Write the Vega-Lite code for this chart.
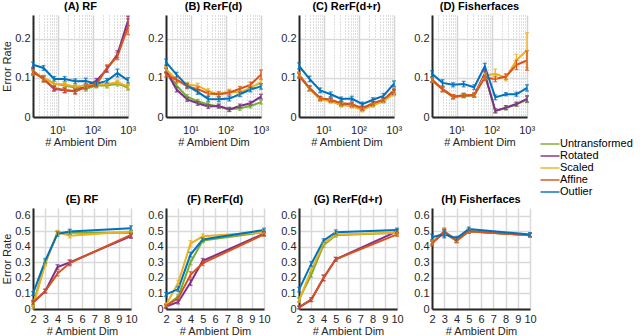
{
"$schema": "https://vega.github.io/schema/vega-lite/v6.json",
"padding": {"left": 1, "top": 1, "right": 0, "bottom": 0},
"background": "white",
"datasets": {
"top": [
{"p":"A","s":"Untransformed","x":2,"y":0.112,"e":0.006},{"p":"A","s":"Untransformed","x":4,"y":0.100,"e":0.006},{"p":"A","s":"Untransformed","x":8,"y":0.085,"e":0.006},{"p":"A","s":"Untransformed","x":16,"y":0.080,"e":0.006},{"p":"A","s":"Untransformed","x":32,"y":0.075,"e":0.006},{"p":"A","s":"Untransformed","x":64,"y":0.072,"e":0.006},{"p":"A","s":"Untransformed","x":128,"y":0.080,"e":0.006},{"p":"A","s":"Untransformed","x":256,"y":0.080,"e":0.006},{"p":"A","s":"Untransformed","x":512,"y":0.085,"e":0.006},{"p":"A","s":"Untransformed","x":1024,"y":0.075,"e":0.006},
{"p":"A","s":"Rotated","x":2,"y":0.118,"e":0.007},{"p":"A","s":"Rotated","x":4,"y":0.097,"e":0.007},{"p":"A","s":"Rotated","x":8,"y":0.072,"e":0.006},{"p":"A","s":"Rotated","x":16,"y":0.068,"e":0.006},{"p":"A","s":"Rotated","x":32,"y":0.066,"e":0.006},{"p":"A","s":"Rotated","x":64,"y":0.078,"e":0.006},{"p":"A","s":"Rotated","x":128,"y":0.092,"e":0.006},{"p":"A","s":"Rotated","x":256,"y":0.122,"e":0.008},{"p":"A","s":"Rotated","x":512,"y":0.160,"e":0.009},{"p":"A","s":"Rotated","x":1024,"y":0.245,"e":0.012},
{"p":"A","s":"Scaled","x":2,"y":0.115,"e":0.006},{"p":"A","s":"Scaled","x":4,"y":0.100,"e":0.006},{"p":"A","s":"Scaled","x":8,"y":0.085,"e":0.006},{"p":"A","s":"Scaled","x":16,"y":0.083,"e":0.006},{"p":"A","s":"Scaled","x":32,"y":0.078,"e":0.006},{"p":"A","s":"Scaled","x":64,"y":0.080,"e":0.006},{"p":"A","s":"Scaled","x":128,"y":0.082,"e":0.006},{"p":"A","s":"Scaled","x":256,"y":0.084,"e":0.006},{"p":"A","s":"Scaled","x":512,"y":0.088,"e":0.006},{"p":"A","s":"Scaled","x":1024,"y":0.078,"e":0.006},
{"p":"A","s":"Affine","x":2,"y":0.115,"e":0.007},{"p":"A","s":"Affine","x":4,"y":0.097,"e":0.008},{"p":"A","s":"Affine","x":8,"y":0.074,"e":0.006},{"p":"A","s":"Affine","x":16,"y":0.068,"e":0.006},{"p":"A","s":"Affine","x":32,"y":0.065,"e":0.007},{"p":"A","s":"Affine","x":64,"y":0.076,"e":0.006},{"p":"A","s":"Affine","x":128,"y":0.082,"e":0.006},{"p":"A","s":"Affine","x":256,"y":0.125,"e":0.008},{"p":"A","s":"Affine","x":512,"y":0.155,"e":0.009},{"p":"A","s":"Affine","x":1024,"y":0.230,"e":0.02},
{"p":"A","s":"Outlier","x":2,"y":0.133,"e":0.007},{"p":"A","s":"Outlier","x":4,"y":0.125,"e":0.006},{"p":"A","s":"Outlier","x":8,"y":0.097,"e":0.006},{"p":"A","s":"Outlier","x":16,"y":0.097,"e":0.006},{"p":"A","s":"Outlier","x":32,"y":0.091,"e":0.006},{"p":"A","s":"Outlier","x":64,"y":0.092,"e":0.007},{"p":"A","s":"Outlier","x":128,"y":0.085,"e":0.006},{"p":"A","s":"Outlier","x":256,"y":0.092,"e":0.006},{"p":"A","s":"Outlier","x":512,"y":0.112,"e":0.01},{"p":"A","s":"Outlier","x":1024,"y":0.093,"e":0.007},
{"p":"B","s":"Untransformed","x":2,"y":0.120,"e":0.006},{"p":"B","s":"Untransformed","x":4,"y":0.080,"e":0.006},{"p":"B","s":"Untransformed","x":8,"y":0.052,"e":0.005},{"p":"B","s":"Untransformed","x":16,"y":0.040,"e":0.005},{"p":"B","s":"Untransformed","x":32,"y":0.032,"e":0.005},{"p":"B","s":"Untransformed","x":64,"y":0.027,"e":0.005},{"p":"B","s":"Untransformed","x":128,"y":0.020,"e":0.005},{"p":"B","s":"Untransformed","x":256,"y":0.022,"e":0.005},{"p":"B","s":"Untransformed","x":512,"y":0.028,"e":0.005},{"p":"B","s":"Untransformed","x":1024,"y":0.038,"e":0.005},
{"p":"B","s":"Rotated","x":2,"y":0.118,"e":0.006},{"p":"B","s":"Rotated","x":4,"y":0.070,"e":0.006},{"p":"B","s":"Rotated","x":8,"y":0.045,"e":0.005},{"p":"B","s":"Rotated","x":16,"y":0.035,"e":0.005},{"p":"B","s":"Rotated","x":32,"y":0.027,"e":0.005},{"p":"B","s":"Rotated","x":64,"y":0.028,"e":0.005},{"p":"B","s":"Rotated","x":128,"y":0.019,"e":0.005},{"p":"B","s":"Rotated","x":256,"y":0.028,"e":0.005},{"p":"B","s":"Rotated","x":512,"y":0.035,"e":0.005},{"p":"B","s":"Rotated","x":1024,"y":0.052,"e":0.006},
{"p":"B","s":"Scaled","x":2,"y":0.122,"e":0.006},{"p":"B","s":"Scaled","x":4,"y":0.095,"e":0.006},{"p":"B","s":"Scaled","x":8,"y":0.082,"e":0.006},{"p":"B","s":"Scaled","x":16,"y":0.080,"e":0.006},{"p":"B","s":"Scaled","x":32,"y":0.066,"e":0.006},{"p":"B","s":"Scaled","x":64,"y":0.058,"e":0.006},{"p":"B","s":"Scaled","x":128,"y":0.065,"e":0.006},{"p":"B","s":"Scaled","x":256,"y":0.062,"e":0.006},{"p":"B","s":"Scaled","x":512,"y":0.075,"e":0.006},{"p":"B","s":"Scaled","x":1024,"y":0.088,"e":0.007},
{"p":"B","s":"Affine","x":2,"y":0.108,"e":0.006},{"p":"B","s":"Affine","x":4,"y":0.095,"e":0.006},{"p":"B","s":"Affine","x":8,"y":0.078,"e":0.006},{"p":"B","s":"Affine","x":16,"y":0.071,"e":0.006},{"p":"B","s":"Affine","x":32,"y":0.060,"e":0.006},{"p":"B","s":"Affine","x":64,"y":0.058,"e":0.006},{"p":"B","s":"Affine","x":128,"y":0.062,"e":0.006},{"p":"B","s":"Affine","x":256,"y":0.072,"e":0.006},{"p":"B","s":"Affine","x":512,"y":0.082,"e":0.007},{"p":"B","s":"Affine","x":1024,"y":0.108,"e":0.012},
{"p":"B","s":"Outlier","x":2,"y":0.140,"e":0.008},{"p":"B","s":"Outlier","x":4,"y":0.108,"e":0.006},{"p":"B","s":"Outlier","x":8,"y":0.080,"e":0.006},{"p":"B","s":"Outlier","x":16,"y":0.064,"e":0.006},{"p":"B","s":"Outlier","x":32,"y":0.046,"e":0.006},{"p":"B","s":"Outlier","x":64,"y":0.045,"e":0.006},{"p":"B","s":"Outlier","x":128,"y":0.047,"e":0.006},{"p":"B","s":"Outlier","x":256,"y":0.058,"e":0.006},{"p":"B","s":"Outlier","x":512,"y":0.070,"e":0.006},{"p":"B","s":"Outlier","x":1024,"y":0.078,"e":0.007},
{"p":"C","s":"Untransformed","x":2,"y":0.106,"e":0.006},{"p":"C","s":"Untransformed","x":4,"y":0.072,"e":0.006},{"p":"C","s":"Untransformed","x":8,"y":0.046,"e":0.005},{"p":"C","s":"Untransformed","x":16,"y":0.042,"e":0.005},{"p":"C","s":"Untransformed","x":32,"y":0.032,"e":0.005},{"p":"C","s":"Untransformed","x":64,"y":0.030,"e":0.005},{"p":"C","s":"Untransformed","x":128,"y":0.020,"e":0.005},{"p":"C","s":"Untransformed","x":256,"y":0.032,"e":0.005},{"p":"C","s":"Untransformed","x":512,"y":0.042,"e":0.005},{"p":"C","s":"Untransformed","x":1024,"y":0.062,"e":0.006},
{"p":"C","s":"Rotated","x":2,"y":0.108,"e":0.006},{"p":"C","s":"Rotated","x":4,"y":0.073,"e":0.006},{"p":"C","s":"Rotated","x":8,"y":0.047,"e":0.005},{"p":"C","s":"Rotated","x":16,"y":0.043,"e":0.005},{"p":"C","s":"Rotated","x":32,"y":0.034,"e":0.005},{"p":"C","s":"Rotated","x":64,"y":0.031,"e":0.005},{"p":"C","s":"Rotated","x":128,"y":0.022,"e":0.005},{"p":"C","s":"Rotated","x":256,"y":0.034,"e":0.005},{"p":"C","s":"Rotated","x":512,"y":0.043,"e":0.005},{"p":"C","s":"Rotated","x":1024,"y":0.064,"e":0.006},
{"p":"C","s":"Scaled","x":2,"y":0.108,"e":0.006},{"p":"C","s":"Scaled","x":4,"y":0.072,"e":0.006},{"p":"C","s":"Scaled","x":8,"y":0.045,"e":0.005},{"p":"C","s":"Scaled","x":16,"y":0.040,"e":0.005},{"p":"C","s":"Scaled","x":32,"y":0.030,"e":0.005},{"p":"C","s":"Scaled","x":64,"y":0.028,"e":0.005},{"p":"C","s":"Scaled","x":128,"y":0.018,"e":0.005},{"p":"C","s":"Scaled","x":256,"y":0.030,"e":0.005},{"p":"C","s":"Scaled","x":512,"y":0.040,"e":0.005},{"p":"C","s":"Scaled","x":1024,"y":0.060,"e":0.006},
{"p":"C","s":"Affine","x":2,"y":0.105,"e":0.006},{"p":"C","s":"Affine","x":4,"y":0.074,"e":0.006},{"p":"C","s":"Affine","x":8,"y":0.048,"e":0.005},{"p":"C","s":"Affine","x":16,"y":0.044,"e":0.005},{"p":"C","s":"Affine","x":32,"y":0.035,"e":0.005},{"p":"C","s":"Affine","x":64,"y":0.033,"e":0.005},{"p":"C","s":"Affine","x":128,"y":0.022,"e":0.005},{"p":"C","s":"Affine","x":256,"y":0.035,"e":0.005},{"p":"C","s":"Affine","x":512,"y":0.044,"e":0.005},{"p":"C","s":"Affine","x":1024,"y":0.068,"e":0.006},
{"p":"C","s":"Outlier","x":2,"y":0.130,"e":0.008},{"p":"C","s":"Outlier","x":4,"y":0.097,"e":0.007},{"p":"C","s":"Outlier","x":8,"y":0.068,"e":0.006},{"p":"C","s":"Outlier","x":16,"y":0.058,"e":0.006},{"p":"C","s":"Outlier","x":32,"y":0.046,"e":0.005},{"p":"C","s":"Outlier","x":64,"y":0.047,"e":0.006},{"p":"C","s":"Outlier","x":128,"y":0.033,"e":0.005},{"p":"C","s":"Outlier","x":256,"y":0.044,"e":0.005},{"p":"C","s":"Outlier","x":512,"y":0.054,"e":0.006},{"p":"C","s":"Outlier","x":1024,"y":0.085,"e":0.007},
{"p":"D","s":"Untransformed","x":2,"y":0.094,"e":0.006},{"p":"D","s":"Untransformed","x":4,"y":0.070,"e":0.006},{"p":"D","s":"Untransformed","x":8,"y":0.051,"e":0.005},{"p":"D","s":"Untransformed","x":16,"y":0.054,"e":0.005},{"p":"D","s":"Untransformed","x":32,"y":0.055,"e":0.005},{"p":"D","s":"Untransformed","x":64,"y":0.108,"e":0.008},{"p":"D","s":"Untransformed","x":128,"y":0.015,"e":0.005},{"p":"D","s":"Untransformed","x":256,"y":0.023,"e":0.005},{"p":"D","s":"Untransformed","x":512,"y":0.032,"e":0.005},{"p":"D","s":"Untransformed","x":1024,"y":0.045,"e":0.008},
{"p":"D","s":"Rotated","x":2,"y":0.095,"e":0.006},{"p":"D","s":"Rotated","x":4,"y":0.071,"e":0.006},{"p":"D","s":"Rotated","x":8,"y":0.052,"e":0.005},{"p":"D","s":"Rotated","x":16,"y":0.055,"e":0.005},{"p":"D","s":"Rotated","x":32,"y":0.056,"e":0.005},{"p":"D","s":"Rotated","x":64,"y":0.110,"e":0.008},{"p":"D","s":"Rotated","x":128,"y":0.016,"e":0.005},{"p":"D","s":"Rotated","x":256,"y":0.024,"e":0.005},{"p":"D","s":"Rotated","x":512,"y":0.033,"e":0.005},{"p":"D","s":"Rotated","x":1024,"y":0.046,"e":0.008},
{"p":"D","s":"Scaled","x":2,"y":0.095,"e":0.006},{"p":"D","s":"Scaled","x":4,"y":0.071,"e":0.006},{"p":"D","s":"Scaled","x":8,"y":0.052,"e":0.005},{"p":"D","s":"Scaled","x":16,"y":0.055,"e":0.005},{"p":"D","s":"Scaled","x":32,"y":0.056,"e":0.005},{"p":"D","s":"Scaled","x":64,"y":0.105,"e":0.008},{"p":"D","s":"Scaled","x":128,"y":0.110,"e":0.012},{"p":"D","s":"Scaled","x":256,"y":0.100,"e":0.008},{"p":"D","s":"Scaled","x":512,"y":0.145,"e":0.015},{"p":"D","s":"Scaled","x":1024,"y":0.170,"e":0.045},
{"p":"D","s":"Affine","x":2,"y":0.095,"e":0.006},{"p":"D","s":"Affine","x":4,"y":0.071,"e":0.006},{"p":"D","s":"Affine","x":8,"y":0.052,"e":0.005},{"p":"D","s":"Affine","x":16,"y":0.055,"e":0.005},{"p":"D","s":"Affine","x":32,"y":0.056,"e":0.005},{"p":"D","s":"Affine","x":64,"y":0.100,"e":0.007},{"p":"D","s":"Affine","x":128,"y":0.097,"e":0.007},{"p":"D","s":"Affine","x":256,"y":0.103,"e":0.007},{"p":"D","s":"Affine","x":512,"y":0.133,"e":0.012},{"p":"D","s":"Affine","x":1024,"y":0.144,"e":0.025},
{"p":"D","s":"Outlier","x":2,"y":0.110,"e":0.008},{"p":"D","s":"Outlier","x":4,"y":0.087,"e":0.008},{"p":"D","s":"Outlier","x":8,"y":0.082,"e":0.005},{"p":"D","s":"Outlier","x":16,"y":0.084,"e":0.007},{"p":"D","s":"Outlier","x":32,"y":0.076,"e":0.006},{"p":"D","s":"Outlier","x":64,"y":0.129,"e":0.008},{"p":"D","s":"Outlier","x":128,"y":0.050,"e":0.006},{"p":"D","s":"Outlier","x":256,"y":0.058,"e":0.004},{"p":"D","s":"Outlier","x":512,"y":0.058,"e":0.005},{"p":"D","s":"Outlier","x":1024,"y":0.074,"e":0.008}
],
"bot": [
{"p":"E","s":"Untransformed","x":2,"y":0.030,"e":0.012},{"p":"E","s":"Untransformed","x":3,"y":0.300,"e":0.015},{"p":"E","s":"Untransformed","x":4,"y":0.490,"e":0.012},{"p":"E","s":"Untransformed","x":5,"y":0.490,"e":0.012},{"p":"E","s":"Untransformed","x":10,"y":0.490,"e":0.012},
{"p":"E","s":"Rotated","x":2,"y":0.040,"e":0.012},{"p":"E","s":"Rotated","x":3,"y":0.115,"e":0.012},{"p":"E","s":"Rotated","x":4,"y":0.270,"e":0.015},{"p":"E","s":"Rotated","x":5,"y":0.300,"e":0.015},{"p":"E","s":"Rotated","x":10,"y":0.470,"e":0.015},
{"p":"E","s":"Scaled","x":2,"y":0.015,"e":0.012},{"p":"E","s":"Scaled","x":3,"y":0.290,"e":0.015},{"p":"E","s":"Scaled","x":4,"y":0.494,"e":0.012},{"p":"E","s":"Scaled","x":5,"y":0.472,"e":0.015},{"p":"E","s":"Scaled","x":10,"y":0.498,"e":0.012},
{"p":"E","s":"Affine","x":2,"y":0.043,"e":0.012},{"p":"E","s":"Affine","x":3,"y":0.115,"e":0.012},{"p":"E","s":"Affine","x":4,"y":0.228,"e":0.015},{"p":"E","s":"Affine","x":5,"y":0.296,"e":0.018},{"p":"E","s":"Affine","x":10,"y":0.477,"e":0.015},
{"p":"E","s":"Outlier","x":2,"y":0.100,"e":0.012},{"p":"E","s":"Outlier","x":3,"y":0.310,"e":0.015},{"p":"E","s":"Outlier","x":4,"y":0.483,"e":0.015},{"p":"E","s":"Outlier","x":5,"y":0.498,"e":0.015},{"p":"E","s":"Outlier","x":10,"y":0.520,"e":0.015},
{"p":"F","s":"Untransformed","x":2,"y":0.020,"e":0.01},{"p":"F","s":"Untransformed","x":3,"y":0.080,"e":0.012},{"p":"F","s":"Untransformed","x":4,"y":0.300,"e":0.015},{"p":"F","s":"Untransformed","x":5,"y":0.440,"e":0.012},{"p":"F","s":"Untransformed","x":10,"y":0.495,"e":0.012},
{"p":"F","s":"Rotated","x":2,"y":0.015,"e":0.01},{"p":"F","s":"Rotated","x":3,"y":0.045,"e":0.012},{"p":"F","s":"Rotated","x":4,"y":0.170,"e":0.018},{"p":"F","s":"Rotated","x":5,"y":0.310,"e":0.015},{"p":"F","s":"Rotated","x":10,"y":0.485,"e":0.012},
{"p":"F","s":"Scaled","x":2,"y":0.025,"e":0.01},{"p":"F","s":"Scaled","x":3,"y":0.170,"e":0.015},{"p":"F","s":"Scaled","x":4,"y":0.420,"e":0.02},{"p":"F","s":"Scaled","x":5,"y":0.468,"e":0.015},{"p":"F","s":"Scaled","x":10,"y":0.494,"e":0.012},
{"p":"F","s":"Affine","x":2,"y":0.020,"e":0.01},{"p":"F","s":"Affine","x":3,"y":0.070,"e":0.012},{"p":"F","s":"Affine","x":4,"y":0.220,"e":0.02},{"p":"F","s":"Affine","x":5,"y":0.295,"e":0.015},{"p":"F","s":"Affine","x":10,"y":0.480,"e":0.012},
{"p":"F","s":"Outlier","x":2,"y":0.094,"e":0.012},{"p":"F","s":"Outlier","x":3,"y":0.128,"e":0.015},{"p":"F","s":"Outlier","x":4,"y":0.350,"e":0.015},{"p":"F","s":"Outlier","x":5,"y":0.447,"e":0.012},{"p":"F","s":"Outlier","x":10,"y":0.508,"e":0.012},
{"p":"G","s":"Untransformed","x":2,"y":0.060,"e":0.012},{"p":"G","s":"Untransformed","x":3,"y":0.220,"e":0.015},{"p":"G","s":"Untransformed","x":4,"y":0.410,"e":0.012},{"p":"G","s":"Untransformed","x":5,"y":0.475,"e":0.012},{"p":"G","s":"Untransformed","x":10,"y":0.490,"e":0.012},
{"p":"G","s":"Rotated","x":2,"y":0.010,"e":0.008},{"p":"G","s":"Rotated","x":3,"y":0.060,"e":0.012},{"p":"G","s":"Rotated","x":4,"y":0.200,"e":0.018},{"p":"G","s":"Rotated","x":5,"y":0.320,"e":0.012},{"p":"G","s":"Rotated","x":10,"y":0.500,"e":0.012},
{"p":"G","s":"Scaled","x":2,"y":0.055,"e":0.012},{"p":"G","s":"Scaled","x":3,"y":0.250,"e":0.015},{"p":"G","s":"Scaled","x":4,"y":0.420,"e":0.012},{"p":"G","s":"Scaled","x":5,"y":0.480,"e":0.012},{"p":"G","s":"Scaled","x":10,"y":0.490,"e":0.012},
{"p":"G","s":"Affine","x":2,"y":0.010,"e":0.008},{"p":"G","s":"Affine","x":3,"y":0.060,"e":0.012},{"p":"G","s":"Affine","x":4,"y":0.200,"e":0.018},{"p":"G","s":"Affine","x":5,"y":0.320,"e":0.012},{"p":"G","s":"Affine","x":10,"y":0.480,"e":0.012},
{"p":"G","s":"Outlier","x":2,"y":0.125,"e":0.015},{"p":"G","s":"Outlier","x":3,"y":0.290,"e":0.015},{"p":"G","s":"Outlier","x":4,"y":0.440,"e":0.012},{"p":"G","s":"Outlier","x":5,"y":0.494,"e":0.015},{"p":"G","s":"Outlier","x":10,"y":0.508,"e":0.012},
{"p":"H","s":"Untransformed","x":2,"y":0.430,"e":0.015},{"p":"H","s":"Untransformed","x":3,"y":0.490,"e":0.02},{"p":"H","s":"Untransformed","x":4,"y":0.440,"e":0.012},{"p":"H","s":"Untransformed","x":5,"y":0.500,"e":0.012},{"p":"H","s":"Untransformed","x":10,"y":0.475,"e":0.012},
{"p":"H","s":"Rotated","x":2,"y":0.430,"e":0.015},{"p":"H","s":"Rotated","x":3,"y":0.490,"e":0.02},{"p":"H","s":"Rotated","x":4,"y":0.440,"e":0.012},{"p":"H","s":"Rotated","x":5,"y":0.500,"e":0.012},{"p":"H","s":"Rotated","x":10,"y":0.475,"e":0.012},
{"p":"H","s":"Scaled","x":2,"y":0.430,"e":0.015},{"p":"H","s":"Scaled","x":3,"y":0.500,"e":0.02},{"p":"H","s":"Scaled","x":4,"y":0.440,"e":0.012},{"p":"H","s":"Scaled","x":5,"y":0.500,"e":0.012},{"p":"H","s":"Scaled","x":10,"y":0.475,"e":0.012},
{"p":"H","s":"Affine","x":2,"y":0.420,"e":0.015},{"p":"H","s":"Affine","x":3,"y":0.500,"e":0.02},{"p":"H","s":"Affine","x":4,"y":0.440,"e":0.012},{"p":"H","s":"Affine","x":5,"y":0.500,"e":0.012},{"p":"H","s":"Affine","x":10,"y":0.475,"e":0.012},
{"p":"H","s":"Outlier","x":2,"y":0.462,"e":0.02},{"p":"H","s":"Outlier","x":3,"y":0.483,"e":0.025},{"p":"H","s":"Outlier","x":4,"y":0.455,"e":0.012},{"p":"H","s":"Outlier","x":5,"y":0.515,"e":0.012},{"p":"H","s":"Outlier","x":10,"y":0.479,"e":0.012}
]
},
"columns": 4,
"bounds": "flush",
"spacing": {"row": 91, "column": 35},
"concat": [
{"title":"(A) RF","width":95,"height":102,"data":{"name":"top"},"transform":[{"filter":"datum.p=='A'"}],
 "encoding":{"x":{"field":"x","type":"quantitative","scale":{"type":"log","domain":[2,1024]},"axis":{"title":"# Ambient Dim","labelPadding":7,"values":[2,3,4,5,6,7,8,9,10,20,30,40,50,60,70,80,90,100,200,300,400,500,600,700,800,900,1000],"labelExpr":"datum.value==10?'10¹':datum.value==100?'10²':datum.value==1000?'10³':''","labelOverlap":false,"gridColor":{"condition":{"test":"datum.value==10||datum.value==100||datum.value==1000","value":"#d4d4d4"},"value":"#a0a0a0"},"gridDash":{"condition":{"test":"datum.value==10||datum.value==100||datum.value==1000","value":[]},"value":[1,2]},"gridWidth":{"condition":{"test":"datum.value==10||datum.value==100||datum.value==1000","value":1.5},"value":0.7}}},
  "y":{"field":"y","type":"quantitative","scale":{"domain":[0,0.26]},"axis":{"title":"Error Rate","values":[0,0.1,0.2],"labelExpr":"datum.value==0?'0':format(datum.value,'.1f')"}},
  "color":{"field":"s","type":"nominal","title":null,"scale":{"domain":["Untransformed","Rotated","Scaled","Affine","Outlier"],"range":["#77AC30","#7E2F8E","#EDB120","#D95319","#0072BD"]}}},
 "layer":[{"mark":{"type":"line","strokeWidth":2}},
  {"mark":{"type":"errorbar","ticks":{"size":4},"thickness":1.3},"encoding":{"yError":{"field":"e"}}}]},
{"title":"(B) RerF(d)","width":95,"height":102,"data":{"name":"top"},"transform":[{"filter":"datum.p=='B'"}],
 "encoding":{"x":{"field":"x","type":"quantitative","scale":{"type":"log","domain":[2,1024]},"axis":{"title":"# Ambient Dim","labelPadding":7,"values":[2,3,4,5,6,7,8,9,10,20,30,40,50,60,70,80,90,100,200,300,400,500,600,700,800,900,1000],"labelExpr":"datum.value==10?'10¹':datum.value==100?'10²':datum.value==1000?'10³':''","labelOverlap":false,"gridColor":{"condition":{"test":"datum.value==10||datum.value==100||datum.value==1000","value":"#d4d4d4"},"value":"#a0a0a0"},"gridDash":{"condition":{"test":"datum.value==10||datum.value==100||datum.value==1000","value":[]},"value":[1,2]},"gridWidth":{"condition":{"test":"datum.value==10||datum.value==100||datum.value==1000","value":1.5},"value":0.7}}},
  "y":{"field":"y","type":"quantitative","scale":{"domain":[0,0.26]},"axis":{"title":null,"values":[0,0.1,0.2],"labelExpr":"datum.value==0?'0':format(datum.value,'.1f')"}},
  "color":{"field":"s","type":"nominal","title":null,"scale":{"domain":["Untransformed","Rotated","Scaled","Affine","Outlier"],"range":["#77AC30","#7E2F8E","#EDB120","#D95319","#0072BD"]}}},
 "layer":[{"mark":{"type":"line","strokeWidth":2}},
  {"mark":{"type":"errorbar","ticks":{"size":4},"thickness":1.3},"encoding":{"yError":{"field":"e"}}}]},
{"title":"(C) RerF(d+r)","width":95,"height":102,"data":{"name":"top"},"transform":[{"filter":"datum.p=='C'"}],
 "encoding":{"x":{"field":"x","type":"quantitative","scale":{"type":"log","domain":[2,1024]},"axis":{"title":"# Ambient Dim","labelPadding":7,"values":[2,3,4,5,6,7,8,9,10,20,30,40,50,60,70,80,90,100,200,300,400,500,600,700,800,900,1000],"labelExpr":"datum.value==10?'10¹':datum.value==100?'10²':datum.value==1000?'10³':''","labelOverlap":false,"gridColor":{"condition":{"test":"datum.value==10||datum.value==100||datum.value==1000","value":"#d4d4d4"},"value":"#a0a0a0"},"gridDash":{"condition":{"test":"datum.value==10||datum.value==100||datum.value==1000","value":[]},"value":[1,2]},"gridWidth":{"condition":{"test":"datum.value==10||datum.value==100||datum.value==1000","value":1.5},"value":0.7}}},
  "y":{"field":"y","type":"quantitative","scale":{"domain":[0,0.26]},"axis":{"title":null,"values":[0,0.1,0.2],"labelExpr":"datum.value==0?'0':format(datum.value,'.1f')"}},
  "color":{"field":"s","type":"nominal","title":null,"scale":{"domain":["Untransformed","Rotated","Scaled","Affine","Outlier"],"range":["#77AC30","#7E2F8E","#EDB120","#D95319","#0072BD"]}}},
 "layer":[{"mark":{"type":"line","strokeWidth":2}},
  {"mark":{"type":"errorbar","ticks":{"size":4},"thickness":1.3},"encoding":{"yError":{"field":"e"}}}]},
{"title":"(D) Fisherfaces","width":95,"height":102,"data":{"name":"top"},"transform":[{"filter":"datum.p=='D'"}],
 "encoding":{"x":{"field":"x","type":"quantitative","scale":{"type":"log","domain":[2,1024]},"axis":{"title":"# Ambient Dim","labelPadding":7,"values":[2,3,4,5,6,7,8,9,10,20,30,40,50,60,70,80,90,100,200,300,400,500,600,700,800,900,1000],"labelExpr":"datum.value==10?'10¹':datum.value==100?'10²':datum.value==1000?'10³':''","labelOverlap":false,"gridColor":{"condition":{"test":"datum.value==10||datum.value==100||datum.value==1000","value":"#d4d4d4"},"value":"#a0a0a0"},"gridDash":{"condition":{"test":"datum.value==10||datum.value==100||datum.value==1000","value":[]},"value":[1,2]},"gridWidth":{"condition":{"test":"datum.value==10||datum.value==100||datum.value==1000","value":1.5},"value":0.7}}},
  "y":{"field":"y","type":"quantitative","scale":{"domain":[0,0.26]},"axis":{"title":null,"values":[0,0.1,0.2],"labelExpr":"datum.value==0?'0':format(datum.value,'.1f')"}},
  "color":{"field":"s","type":"nominal","title":null,"scale":{"domain":["Untransformed","Rotated","Scaled","Affine","Outlier"],"range":["#77AC30","#7E2F8E","#EDB120","#D95319","#0072BD"]}}},
 "layer":[{"mark":{"type":"line","strokeWidth":2}},
  {"mark":{"type":"errorbar","ticks":{"size":4},"thickness":1.3},"encoding":{"yError":{"field":"e"}}}]},
{"title":"(E) RF","width":98,"height":101,"data":{"name":"bot"},"transform":[{"filter":"datum.p=='E'"}],
 "encoding":{"x":{"field":"x","type":"quantitative","scale":{"domain":[2,10]},"axis":{"title":"# Ambient Dim","values":[2,3,4,5,6,7,8,9,10],"labelOverlap":false}},
  "y":{"field":"y","type":"quantitative","scale":{"domain":[0,0.65]},"axis":{"title":"Error Rate","values":[0,0.1,0.2,0.3,0.4,0.5,0.6],"labelOverlap":false,"labelExpr":"datum.value==0?'0':format(datum.value,'.1f')"}},
  "color":{"field":"s","type":"nominal","title":null,"scale":{"domain":["Untransformed","Rotated","Scaled","Affine","Outlier"],"range":["#77AC30","#7E2F8E","#EDB120","#D95319","#0072BD"]}}},
 "layer":[{"mark":{"type":"line","strokeWidth":2}},
  {"mark":{"type":"errorbar","ticks":{"size":4},"thickness":1.3},"encoding":{"yError":{"field":"e"}}}]},
{"title":"(F) RerF(d)","width":98,"height":101,"data":{"name":"bot"},"transform":[{"filter":"datum.p=='F'"}],
 "encoding":{"x":{"field":"x","type":"quantitative","scale":{"domain":[2,10]},"axis":{"title":"# Ambient Dim","values":[2,3,4,5,6,7,8,9,10],"labelOverlap":false}},
  "y":{"field":"y","type":"quantitative","scale":{"domain":[0,0.65]},"axis":{"title":null,"values":[0,0.1,0.2,0.3,0.4,0.5,0.6],"labelOverlap":false,"labelExpr":"datum.value==0?'0':format(datum.value,'.1f')"}},
  "color":{"field":"s","type":"nominal","title":null,"scale":{"domain":["Untransformed","Rotated","Scaled","Affine","Outlier"],"range":["#77AC30","#7E2F8E","#EDB120","#D95319","#0072BD"]}}},
 "layer":[{"mark":{"type":"line","strokeWidth":2}},
  {"mark":{"type":"errorbar","ticks":{"size":4},"thickness":1.3},"encoding":{"yError":{"field":"e"}}}]},
{"title":"(G) RerF(d+r)","width":98,"height":101,"data":{"name":"bot"},"transform":[{"filter":"datum.p=='G'"}],
 "encoding":{"x":{"field":"x","type":"quantitative","scale":{"domain":[2,10]},"axis":{"title":"# Ambient Dim","values":[2,3,4,5,6,7,8,9,10],"labelOverlap":false}},
  "y":{"field":"y","type":"quantitative","scale":{"domain":[0,0.65]},"axis":{"title":null,"values":[0,0.1,0.2,0.3,0.4,0.5,0.6],"labelOverlap":false,"labelExpr":"datum.value==0?'0':format(datum.value,'.1f')"}},
  "color":{"field":"s","type":"nominal","title":null,"scale":{"domain":["Untransformed","Rotated","Scaled","Affine","Outlier"],"range":["#77AC30","#7E2F8E","#EDB120","#D95319","#0072BD"]}}},
 "layer":[{"mark":{"type":"line","strokeWidth":2}},
  {"mark":{"type":"errorbar","ticks":{"size":4},"thickness":1.3},"encoding":{"yError":{"field":"e"}}}]},
{"title":"(H) Fisherfaces","width":98,"height":101,"data":{"name":"bot"},"transform":[{"filter":"datum.p=='H'"}],
 "encoding":{"x":{"field":"x","type":"quantitative","scale":{"domain":[2,10]},"axis":{"title":"# Ambient Dim","values":[2,3,4,5,6,7,8,9,10],"labelOverlap":false}},
  "y":{"field":"y","type":"quantitative","scale":{"domain":[0,0.65]},"axis":{"title":null,"values":[0,0.1,0.2,0.3,0.4,0.5,0.6],"labelOverlap":false,"labelExpr":"datum.value==0?'0':format(datum.value,'.1f')"}},
  "color":{"field":"s","type":"nominal","title":null,"scale":{"domain":["Untransformed","Rotated","Scaled","Affine","Outlier"],"range":["#77AC30","#7E2F8E","#EDB120","#D95319","#0072BD"]}}},
 "layer":[{"mark":{"type":"line","strokeWidth":2}},
  {"mark":{"type":"errorbar","ticks":{"size":4},"thickness":1.3},"encoding":{"yError":{"field":"e"}}}]}
],
"config": {
 "font": "Liberation Sans",
 "view": {"stroke": null},
 "axis": {"domainColor":"#262626","domainWidth":2,"labelColor":"#262626","labelFont":"Liberation Sans","labelFontSize":11,"titleFont":"Liberation Sans","titleFontSize":11,"titleFontWeight":"normal","titleColor":"#262626","ticks":false,"labelPadding":3,"titlePadding":2,"grid":true,"gridColor":"#d9d9d9","gridWidth":1.5,"labelFlush":false},
 "axisX": {"labelPadding":4,"titlePadding":1},
 "title": {"font":"Liberation Sans","fontSize":11,"fontWeight":"bold","offset":3,"color":"#000000"},
 "legend": {"orient":"none","legendX":511,"legendY":123,"symbolType":"M-1.9,0H1.9","symbolStrokeWidth":2,"symbolSize":100,"labelFont":"Liberation Sans","labelFontSize":11,"labelColor":"#000000","rowPadding":1,"labelOffset":4,"padding":0}
}
}
